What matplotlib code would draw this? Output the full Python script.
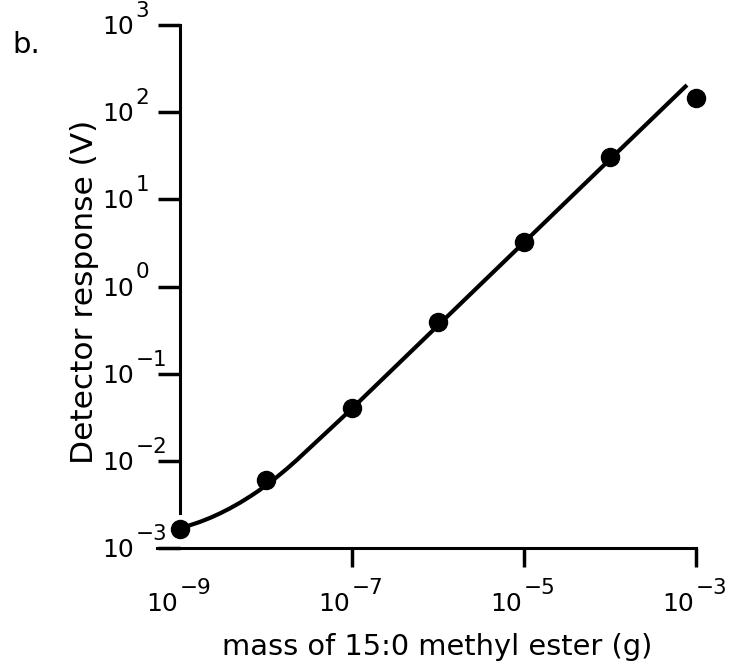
import matplotlib
matplotlib.use("Agg")
import matplotlib.pyplot as plt
import numpy as np

# ---- data ----
mass_g = [1e-9, 1e-8, 1e-7, 1e-6, 1e-5, 1e-4, 1e-3]
response_V = [1.65e-3, 6.0e-3, 0.040, 0.39, 3.2, 30.6, 145.0]

# fitted response curve (log10 values)
fit_log_mass = [-9.0, -8.884, -8.767, -8.651, -8.535, -8.419, -8.3, -8.186,
                -8.09, -7.988, -7.87, -7.756, -7.64, -7.488, -7.256, -7.0,
                -6.0, -5.0, -4.0, -3.105]
fit_log_resp = [-2.771, -2.739, -2.700, -2.655, -2.603, -2.545, -2.479, -2.409,
                -2.346, -2.273, -2.183, -2.090, -1.989, -1.849, -1.636, -1.400,
                -0.447, 0.506, 1.459, 2.311]

x_tick_exps = [-9, -7, -5, -3]
y_tick_exps = [-3, -2, -1, 0, 1, 2, 3]

panel_label = "b."
x_label = "mass of 15:0 methyl ester (g)"
y_label = "Detector response (V)"

# ---- figure ----
W, H = 732, 669
fig = plt.figure(figsize=(W / 100, H / 100), dpi=100)
plt.rcParams["font.family"] = ["DejaVu Sans"]

ax_l, ax_r, ax_t, ax_b = 157, 696, 25, 548
ax = fig.add_axes([ax_l / W, 1 - ax_b / H, (ax_r - ax_l) / W, (ax_b - ax_t) / H])
ax.set_xscale("log")
ax.set_yscale("log")
ax.set_xlim(10 ** (-9 - 23 / 86.0), 1e-3)
ax.set_ylim(1e-3, 1e3)

fit_x = 10.0 ** np.array(fit_log_mass)
fit_y = 10.0 ** np.array(fit_log_resp)
ax.plot(fit_x, fit_y, color="black", lw=3.0, solid_capstyle="butt",
        solid_joinstyle="round", zorder=3, clip_on=False)
ax.plot(mass_g, response_V, "o", color="black", ms=13, zorder=4, clip_on=False)

# spines
for s in ["top", "right"]:
    ax.spines[s].set_visible(False)
ax.spines["left"].set_position(("data", 1e-9))
ax.spines["left"].set_bounds(10 ** -2.6, 1e3)
for s in ["left", "bottom"]:
    ax.spines[s].set_linewidth(2.2)

ax.set_xticks([10.0 ** e for e in x_tick_exps])
ax.set_yticks([10.0 ** e for e in y_tick_exps])
ax.xaxis.set_minor_locator(matplotlib.ticker.NullLocator())
ax.yaxis.set_minor_locator(matplotlib.ticker.NullLocator())
ax.tick_params(axis="x", direction="out", length=14, width=2.5,
               labelbottom=False)
ax.tick_params(axis="y", direction="out", length=16, width=2.5,
               labelleft=False)
ax.xaxis.get_major_ticks()[0].tick1line.set_visible(False)

MINUS = "\u2212"


def sup_text(e):
    return (MINUS + str(-e)) if e < 0 else str(e)


base_fs, sup_fs = 18, 15.5
for e in x_tick_exps:
    base = ax.annotate("10", xy=(10.0 ** e, 0), xycoords=ax.get_xaxis_transform(),
                       xytext=(-2, -44), textcoords="offset pixels",
                       ha="right", va="top", fontsize=base_fs,
                       annotation_clip=False)
    ax.annotate(sup_text(e), xy=(1, 1), xycoords=base, xytext=(2, -2),
                textcoords="offset pixels", ha="left", va="baseline",
                fontsize=sup_fs, annotation_clip=False)

for e in y_tick_exps:
    base = ax.annotate("10", xy=(0, 10.0 ** e), xycoords=ax.get_yaxis_transform(),
                       xytext=(102 - ax_l, -9), textcoords="offset pixels",
                       ha="left", va="baseline", fontsize=base_fs,
                       annotation_clip=False)
    ax.annotate(sup_text(e), xy=(1, 1), xycoords=base, xytext=(2, -2),
                textcoords="offset pixels", ha="left", va="baseline",
                fontsize=sup_fs, annotation_clip=False)

fig.text(437 / W, 1 - 647 / H, x_label, ha="center", va="center", fontsize=20.8)
fig.text(85 / W, 1 - 292 / H, y_label, ha="center", va="center",
         rotation=90, fontsize=22.5)
fig.text(12 / W, 1 - 53 / H, panel_label, ha="left", va="baseline", fontsize=21)

fig.savefig("out.png", dpi=100, facecolor="white")
